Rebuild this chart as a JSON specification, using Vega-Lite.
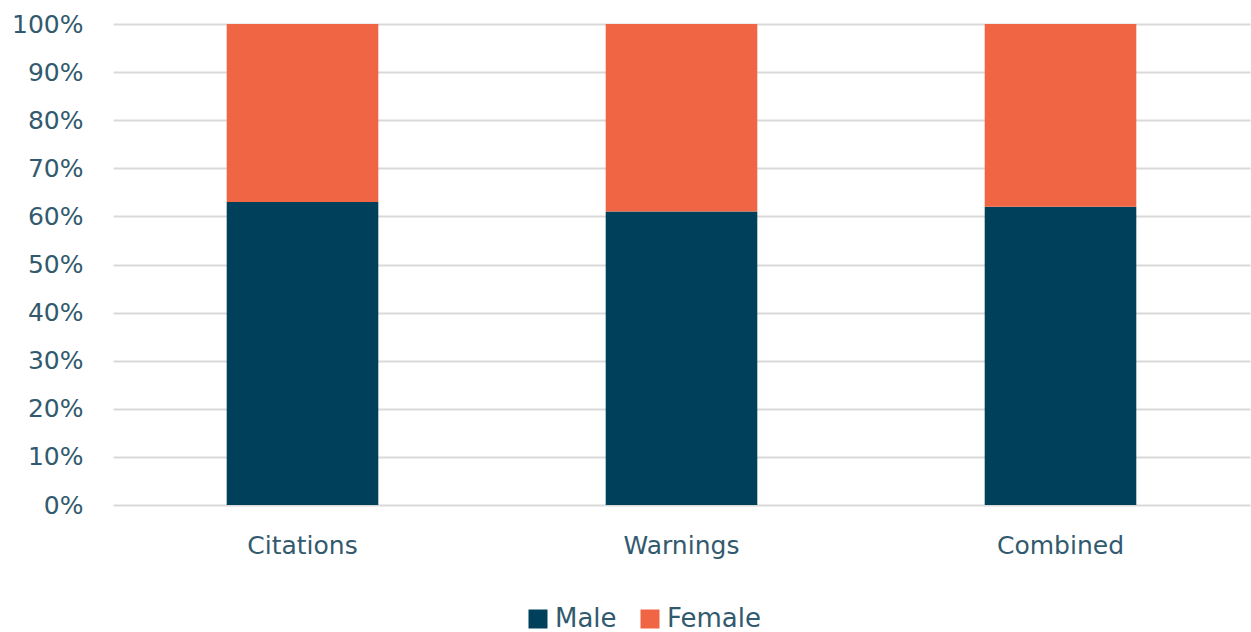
{
  "$schema": "https://vega.github.io/schema/vega-lite/v6.json",
  "width": 1137,
  "height": 481,
  "autosize": {"type": "none"},
  "padding": {"left": 113, "top": 24, "right": 1, "bottom": 127},
  "background": "white",
  "config": {
    "view": {"stroke": null},
    "font": "DejaVu Sans",
    "axis": {"labelColor": "#325A6E", "labelFont": "DejaVu Sans"},
    "legend": {"labelColor": "#325A6E", "labelFont": "DejaVu Sans"}
  },
  "data": {
    "values": [
      {"category": "Citations", "sex": "Male", "share": 0.63},
      {"category": "Citations", "sex": "Female", "share": 0.37},
      {"category": "Warnings", "sex": "Male", "share": 0.61},
      {"category": "Warnings", "sex": "Female", "share": 0.39},
      {"category": "Combined", "sex": "Male", "share": 0.62},
      {"category": "Combined", "sex": "Female", "share": 0.38}
    ]
  },
  "mark": {"type": "bar"},
  "encoding": {
    "x": {
      "field": "category",
      "type": "nominal",
      "sort": ["Citations", "Warnings", "Combined"],
      "scale": {"paddingInner": 0.6, "paddingOuter": 0.3},
      "axis": {
        "title": null,
        "labelAngle": 0,
        "labelFontSize": 25,
        "labelPadding": 28,
        "ticks": false,
        "domain": false,
        "grid": false
      }
    },
    "y": {
      "field": "share",
      "type": "quantitative",
      "stack": "zero",
      "scale": {"domain": [0, 1], "nice": false},
      "axis": {
        "title": null,
        "values": [0, 0.1, 0.2, 0.3, 0.4, 0.5, 0.6, 0.7, 0.8, 0.9, 1],
        "format": ".0%",
        "labelFontSize": 25,
        "labelPadding": 30,
        "ticks": false,
        "domain": false,
        "grid": true,
        "gridColor": "#D9D9D9",
        "gridWidth": 2
      }
    },
    "color": {
      "field": "sex",
      "type": "nominal",
      "scale": {"domain": ["Male", "Female"], "range": ["#01405A", "#F06543"]},
      "legend": {
        "title": null,
        "orient": "none",
        "direction": "horizontal",
        "legendX": 412,
        "legendY": 582,
        "padding": 0,
        "symbolType": "square",
        "symbolSize": 361,
        "symbolStrokeWidth": 0,
        "labelFontSize": 26,
        "labelOffset": 4,
        "columnPadding": 20
      }
    },
    "order": {"field": "sex", "sort": "descending"}
  }
}
